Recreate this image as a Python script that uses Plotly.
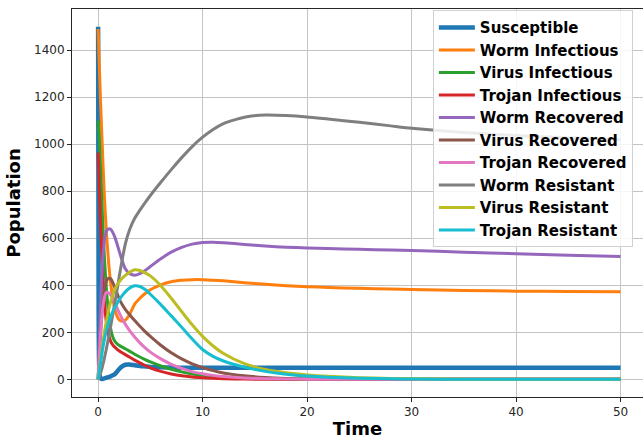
import plotly.graph_objects as go

# Simulation time points
time = [0, 0.05, 0.1, 0.2, 0.3, 0.4, 0.5, 0.6, 0.8, 1.0,
        1.2, 1.4, 1.6, 1.8, 2.0, 2.3, 2.6, 3.0, 3.5, 4.0,
        4.5, 5, 6, 7, 8, 9, 10, 11, 12, 14,
        16, 18, 20, 22, 25, 28, 30, 35, 40, 45, 50]

susceptible = [1500, 300, 60, 5, 2, 2, 3, 4, 7, 10,
               13, 17, 22, 32, 43, 55, 62, 63, 60, 57,
               55, 53, 51, 50, 49.5, 49.5, 49.5, 49.5, 49.5, 49.5,
               49.5, 49.5, 49.5, 49.5, 49.5, 49.5, 49.5, 49.5, 49.5, 49.5, 49.5]
worm_infectious = [1490, 1420, 1350, 1220, 1100, 990, 880, 780, 620, 500,
                   410, 345, 300, 270, 254, 247, 252, 275, 320, 345,
                   365, 381, 402, 415, 421, 424, 424, 422, 419, 411,
                   404, 398, 394, 391, 387, 384, 382, 378, 375, 374, 373]
virus_infectious = [1100, 1065, 1030, 930, 820, 710, 610, 520, 380, 280,
                    215, 180, 162, 152, 145, 137, 130, 120, 107, 95,
                    84, 74, 57, 43, 32, 23, 17, 12, 9, 4.5,
                    2.2, 1, 0.5, 0.2, 0.1, 0, 0, 0, 0, 0, 0]
trojan_infectious = [965, 900, 820, 700, 590, 490, 400, 330, 240, 190,
                     162, 147, 137, 129, 122, 113, 105, 95, 82, 70,
                     59, 49, 34, 23, 15, 10, 7, 5, 3, 1.3,
                     0.6, 0.3, 0.1, 0, 0, 0, 0, 0, 0, 0, 0]
worm_recovered = [0, 70, 140, 270, 390, 480, 545, 590, 630, 640,
                  638, 625, 605, 578, 548, 505, 470, 450, 443, 450,
                  463, 480, 513, 541, 561, 575, 582, 583, 581, 574,
                  567, 562, 559, 556, 553, 550, 548, 541, 534, 528, 522]
virus_recovered = [0, 45, 90, 170, 240, 300, 345, 380, 418, 430,
                   428, 412, 390, 367, 345, 318, 298, 276, 250, 226,
                   203, 183, 145, 113, 87, 66, 50, 37, 27, 15,
                   8, 4, 2, 1, 0.4, 0.1, 0, 0, 0, 0, 0]
trojan_recovered = [0, 45, 90, 170, 240, 290, 325, 350, 370, 368,
                    360, 345, 325, 305, 285, 258, 235, 208, 180, 155,
                    134, 116, 87, 64, 47, 33, 24, 17, 12, 6,
                    3, 1.5, 0.7, 0.3, 0.1, 0, 0, 0, 0, 0, 0]
worm_resistant = [0, 5, 10, 22, 36, 52, 70, 90, 132, 178,
                  225, 275, 325, 378, 432, 508, 575, 635, 685, 720,
                  752, 782, 838, 892, 943, 990, 1030, 1063, 1088, 1115,
                  1124, 1122, 1116, 1107, 1093, 1078, 1068, 1050, 1037, 1027, 1020]
virus_resistant = [0, 18, 36, 70, 105, 140, 172, 200, 250, 295,
                   330, 358, 382, 400, 414, 430, 442, 455, 466, 463,
                   453, 440, 398, 345, 288, 232, 183, 142, 110, 67,
                   42, 28, 19, 13, 7, 4, 2.5, 1, 0.3, 0.1, 0]
trojan_resistant = [0, 15, 30, 60, 90, 120, 146, 170, 210, 242,
                    267, 288, 306, 322, 337, 356, 372, 388, 398, 395,
                    382, 362, 318, 270, 222, 172, 127, 98, 78, 52,
                    34, 22, 14, 9, 5, 2.5, 1.5, 0.5, 0.2, 0.1, 0]

series = [
    ("Susceptible", susceptible, "#1f77b4", 4.5),
    ("Worm Infectious", worm_infectious, "#ff7f0e", 3),
    ("Virus Infectious", virus_infectious, "#2ca02c", 3),
    ("Trojan Infectious", trojan_infectious, "#d62728", 3),
    ("Worm Recovered", worm_recovered, "#9467bd", 3),
    ("Virus Recovered", virus_recovered, "#8c564b", 3),
    ("Trojan Recovered", trojan_recovered, "#e377c2", 3),
    ("Worm Resistant", worm_resistant, "#7f7f7f", 3),
    ("Virus Resistant", virus_resistant, "#bcbd22", 3),
    ("Trojan Resistant", trojan_resistant, "#17becf", 3),
]

x_ticks = [0, 10, 20, 30, 40, 50]
y_ticks = [0, 200, 400, 600, 800, 1000, 1200, 1400]

fig = go.Figure()
for name, values, color, width in series:
    fig.add_trace(go.Scatter(x=time, y=values, mode="lines", name=name,
                             line=dict(color=color, width=width,
                                       shape="spline", smoothing=0.6)))

axis_font = dict(family="DejaVu Sans", size=12, color="#262626")
title_font = dict(family="DejaVu Sans", size=18, color="black", weight="bold")
fig.update_layout(
    width=643, height=439,
    margin=dict(l=72, r=0, t=9, b=42, autoexpand=False),
    paper_bgcolor="white", plot_bgcolor="white",
    font=dict(family="DejaVu Sans"),
    xaxis=dict(range=[-2.5, 52.15], tickvals=x_ticks, ticks="outside", ticklen=4,
               tickcolor="#262626", tickfont=axis_font, showgrid=True,
               gridcolor="#c4c4c4", gridwidth=1, zeroline=False,
               showline=True, linecolor="#262626", linewidth=1, mirror=True,
               title=dict(text="Time", font=title_font, standoff=6)),
    yaxis=dict(range=[-75, 1575], tickvals=y_ticks, ticks="outside", ticklen=4,
               tickcolor="#262626", tickfont=axis_font, showgrid=True,
               gridcolor="#c4c4c4", gridwidth=1, zeroline=False,
               showline=True, linecolor="#262626", linewidth=1,
               title=dict(text="Population", font=title_font, standoff=8)),
    legend=dict(x=0.632, y=0.997, xanchor="left", yanchor="top",
                bgcolor="rgba(255,255,255,0.85)", bordercolor="#d0d0d0", borderwidth=1,
                font=dict(family="DejaVu Sans", size=15, color="black", weight="bold"),
                itemwidth=36, tracegroupgap=0),
    showlegend=True,
)

fig.write_html("out.html")
